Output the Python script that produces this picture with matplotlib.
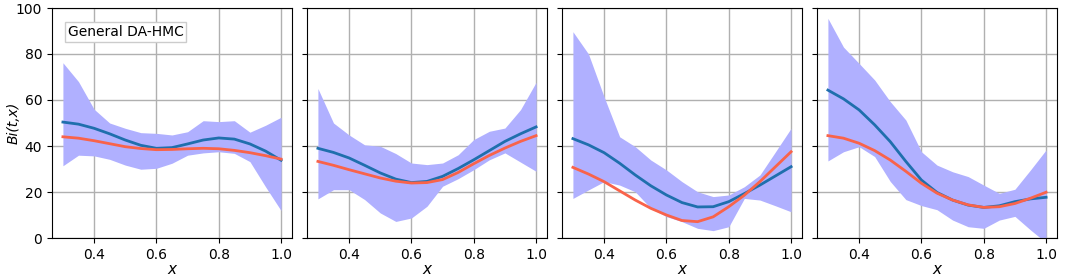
import numpy as np
import matplotlib
matplotlib.use('Agg')
import matplotlib.pyplot as plt

x = [0.30, 0.35, 0.40, 0.45, 0.50, 0.55, 0.60, 0.65, 0.70, 0.75, 0.80, 0.85, 0.90, 0.95, 1.00]

# posterior mean (blue), reference (red), band lower / upper per panel
mean_1 = [50.4, 49.5, 47.7, 45.3, 42.6, 40.3, 39.0, 39.3, 40.9, 42.6, 43.5, 43.0, 40.9, 37.8, 33.8]
true_1 = [44.0, 43.4, 42.3, 41.0, 39.7, 38.9, 38.4, 38.5, 38.8, 39.0, 38.8, 38.1, 37.1, 35.8, 34.3]
low_1 = [31.4, 36.0, 35.7, 34.2, 31.7, 29.9, 30.3, 32.5, 36.0, 37.0, 37.5, 36.8, 33.2, 22.3, 11.9]
up_1 = [76.2, 68.0, 56.0, 50.0, 47.7, 45.8, 45.5, 44.8, 46.2, 51.0, 50.6, 51.0, 46.0, 49.0, 52.5]

mean_2 = [39.0, 37.2, 34.8, 31.6, 28.3, 25.6, 24.1, 24.6, 26.8, 30.2, 34.0, 38.0, 42.0, 45.3, 48.3]
true_2 = [33.3, 31.6, 29.7, 27.9, 26.1, 24.7, 23.9, 24.1, 25.4, 28.5, 32.3, 35.9, 39.1, 42.0, 44.5]
low_2 = [17.0, 21.0, 21.0, 16.7, 10.9, 7.2, 8.7, 13.8, 22.5, 25.8, 29.7, 34.0, 37.0, 33.0, 29.0]
up_2 = [65.0, 50.0, 44.8, 40.5, 39.9, 36.7, 32.6, 31.9, 32.6, 36.2, 42.8, 46.4, 47.8, 55.8, 67.7]

mean_3 = [43.2, 40.5, 37.1, 32.5, 27.4, 22.7, 18.7, 15.4, 13.5, 13.6, 15.8, 19.3, 23.0, 27.0, 31.0]
true_3 = [30.7, 27.8, 24.5, 20.5, 16.5, 12.9, 10.0, 7.6, 7.1, 9.2, 13.6, 18.6, 24.5, 31.0, 37.5]
low_3 = [17.2, 20.9, 24.5, 23.0, 20.1, 12.9, 9.3, 7.1, 4.2, 3.2, 4.9, 17.2, 16.5, 14.0, 11.4]
up_3 = [89.7, 80.0, 61.4, 44.0, 39.7, 33.9, 29.6, 24.5, 20.1, 18.0, 18.7, 22.3, 27.4, 37.5, 47.7]

mean_4 = [64.3, 60.5, 55.7, 49.2, 41.9, 33.3, 25.2, 19.8, 16.5, 14.3, 13.3, 14.0, 15.8, 17.0, 17.7]
true_4 = [44.5, 43.4, 41.2, 38.0, 33.9, 29.0, 23.8, 19.5, 16.5, 14.4, 13.3, 13.6, 15.0, 17.3, 19.9]
low_4 = [33.5, 37.5, 39.7, 35.4, 24.6, 16.7, 14.1, 12.3, 7.8, 4.9, 4.2, 7.8, 9.4, 3.5, -2.0]
up_4 = [95.5, 83.0, 75.9, 68.7, 59.3, 51.3, 37.5, 31.7, 28.8, 26.7, 23.0, 19.4, 21.2, 29.6, 38.3]

panels = [
    (mean_1, true_1, low_1, up_1),
    (mean_2, true_2, low_2, up_2),
    (mean_3, true_3, low_3, up_3),
    (mean_4, true_4, low_4, up_4),
]

fig = plt.figure(figsize=(10.72, 2.76), dpi=100)
W, H = 1072, 276
lefts = [52, 307, 562, 817]

for i, (mean, true, low, up) in enumerate(panels):
    ax = fig.add_axes([lefts[i] / W, 38 / H, 240 / W, 230 / H])
    ax.fill_between(x, low, up, color='#b0b0ff', linewidth=0)
    ax.plot(x, mean, color='#1f6fad', linewidth=2)
    ax.plot(x, true, color='#f9634a', linewidth=2)
    ax.set_ylim(0, 100)
    ax.set_xlim(0.265, 1.035)
    ax.set_xticks([0.4, 0.6, 0.8, 1.0])
    ax.set_yticks([0, 20, 40, 60, 80, 100])
    ax.grid(True, color='#b0b0b0', linewidth=1)
    ax.set_axisbelow(True)
    ax.tick_params(labelsize=10)
    ax.set_xlabel('x', fontsize=11, fontstyle='italic', labelpad=0)
    if i == 0:
        ax.set_ylabel('Bi(t,x)', fontsize=10, fontstyle='italic')
        ax.yaxis.set_label_coords(-0.13, 0.5)
        ax.text(0.065, 0.895, 'General DA-HMC', transform=ax.transAxes, fontsize=10,
                va='center', ha='left',
                bbox=dict(facecolor='white', edgecolor='#cccccc', boxstyle='square,pad=0.2'))
    else:
        ax.set_yticklabels([])

fig.savefig('out.png', dpi=100)
